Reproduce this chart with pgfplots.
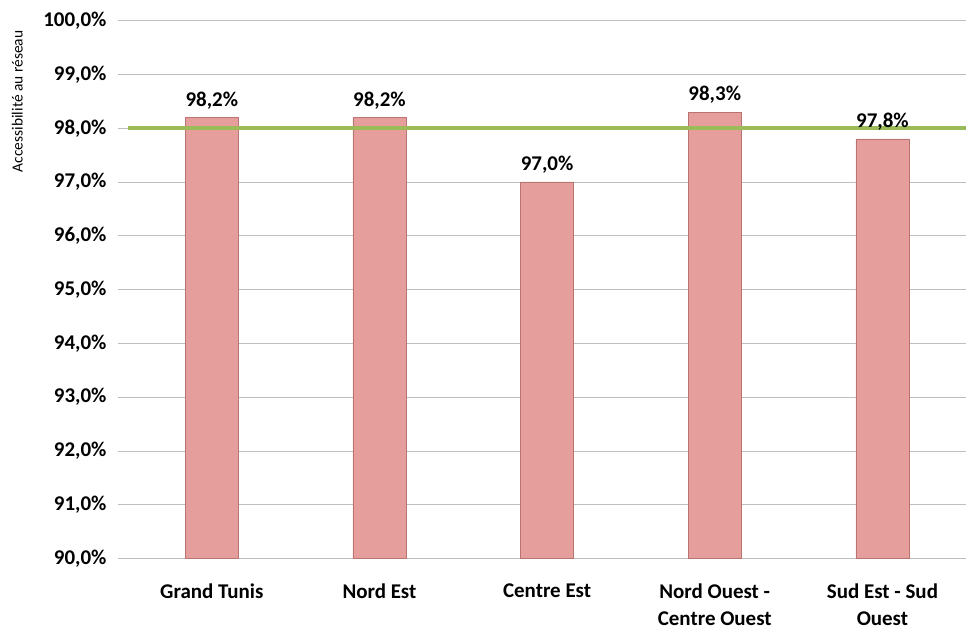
\documentclass[border=0pt]{standalone}
\usepackage{pgfplots}
\pgfplotsset{compat=1.18}
\usepackage{fontspec}
\setmainfont{Carlito}
\definecolor{barfill}{RGB}{230,158,156}
\definecolor{baredge}{RGB}{185,115,113}
\definecolor{refline}{RGB}{155,187,89}
\definecolor{gridgray}{RGB}{190,190,190}

\begin{document}
\begin{tikzpicture}
\begin{axis}[
    scale only axis,
    width=840bp,
    height=539bp,
    xmin=-0.5, xmax=4.5,
    ymin=90, ymax=100,
    ytick={90,91,...,100},
    xtick={0,1,2,3,4},
    xticklabels={Grand Tunis, Nord Est, Centre Est, {Nord Ouest -\\Centre Ouest}, {Sud Est - Sud\\Ouest}},
    minor xtick={0.5,1.5,2.5,3.5},
    axis x line*=bottom,
    axis y line*=left,
    y axis line style={draw=none},
    x axis line style={gridgray, line width=0.8pt, -},
    xtick style={draw=none},
    minor tick length=11bp,
    minor x tick style={gridgray, line width=0.8pt},
    major tick length=10bp,
    ytick style={gridgray, line width=0.8pt},
    tick align=outside,
    ymajorgrids=true,
    grid style={gridgray, line width=0.8pt},
    yticklabel={\pgfmathprintnumber[fixed,fixed zerofill,precision=1,use comma]{\tick}\%},
    /pgf/number format/assume math mode=true,
    yticklabel style={font=\fontsize{21bp}{23bp}\selectfont\bfseries, xshift=-8bp, inner ysep=12bp},
    xticklabel style={font=\fontsize{21bp}{27bp}\selectfont\bfseries, align=center, yshift=-12bp},
    ylabel={Accessibilité au réseau},
    ylabel style={font=\fontsize{15.5bp}{17bp}\selectfont, at={(ticklabel cs:0.85)}, anchor=south, inner ysep=12bp, yshift=5bp},
    clip=false,
]
\addplot[ybar, bar width=0.316, fill=barfill, draw=baredge, line width=0.6pt,
    nodes near coords={\pgfmathprintnumber[fixed,fixed zerofill,precision=1,use comma]{\pgfplotspointmeta}\%},
    nodes near coords style={font=\fontsize{21bp}{23bp}\selectfont\bfseries, yshift=5bp},
    /pgf/number format/assume math mode=true]
    coordinates {(0,98.2) (1,98.2) (2,97.0) (3,98.3) (4,97.8)};
\addplot[refline, line width=3.5bp] coordinates {(-0.5,98.0) (4.5,98.0)};
\end{axis}
\end{tikzpicture}
\end{document}
